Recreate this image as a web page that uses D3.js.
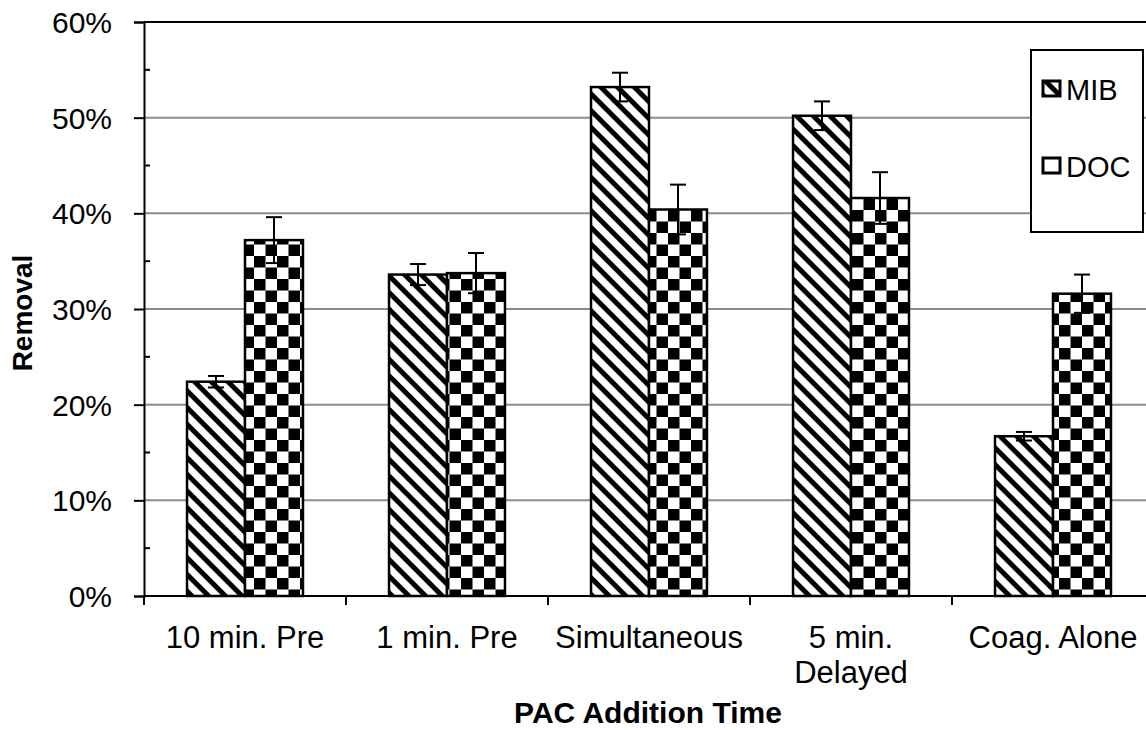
<!DOCTYPE html>
<html><head><meta charset="utf-8">
<script src="https://cdn.jsdelivr.net/npm/d3@7"></script>
<style>body{margin:0;background:#fff}svg{display:block}text{font-family:"Liberation Sans",Arial,sans-serif}</style>
</head><body><svg id="c" width="1146" height="730"></svg>
<script>
const categories = [["10 min. Pre"],["1 min. Pre"],["Simultaneous"],["5 min.","Delayed"],["Coag. Alone"]];
const series = ["MIB","DOC"];
const mibValues = [0.224, 0.336, 0.532, 0.502, 0.167];
const mibErrors = [0.006, 0.011, 0.015, 0.015, 0.0045];
const docValues = [0.372, 0.3375, 0.404, 0.416, 0.316];
const docErrors = [0.024, 0.021, 0.026, 0.027, 0.020];
const yTicks = [0, 0.1, 0.2, 0.3, 0.4, 0.5, 0.6];
const yMinorTicks = [0.05, 0.15, 0.25, 0.35, 0.45, 0.55];

(function(){
const svg = d3.select("#c");
const pL = 144, pR = 1154, pT = 22, pB = 596;
const catKeys = categories.map(c => c.join(" "));
const x = d3.scaleBand().domain(catKeys).range([pL, pR]).padding(0);
const bw = x.bandwidth();
const xs = d3.scaleBand().domain(series).range([0.213*bw, 0.787*bw]).padding(0);
const y = d3.scaleLinear().domain([0, 0.6]).range([pB, pT]);

const defs = svg.append("defs");
const P = 11.8;
const p1 = defs.append("pattern").attr("id","diag").attr("patternUnits","userSpaceOnUse")
  .attr("width",P).attr("height",P).attr("patternTransform","rotate(45)");
p1.append("rect").attr("width",P).attr("height",P).attr("fill","#fff");
p1.append("rect").attr("width",P).attr("height",5).attr("fill","#000");
const p2 = defs.append("pattern").attr("id","check").attr("patternUnits","userSpaceOnUse")
  .attr("width",23).attr("height",23).attr("x",1).attr("y",3);
p2.append("rect").attr("width",23).attr("height",23).attr("fill","#fff");
p2.append("rect").attr("width",11.5).attr("height",11.5).attr("fill","#000");
p2.append("rect").attr("x",11.5).attr("y",11.5).attr("width",11.5).attr("height",11.5).attr("fill","#000");

svg.append("g").selectAll("line").data(yTicks.filter(t => t>0 && t<0.6)).join("line")
  .attr("x1",pL).attr("x2",1146).attr("y1",d=>y(d)).attr("y2",d=>y(d))
  .attr("stroke","#8c8c8c").attr("stroke-width",2);
svg.append("line").attr("x1",pL).attr("x2",1146).attr("y1",y(0.6)).attr("y2",y(0.6))
  .attr("stroke","#000").attr("stroke-width",2);

const data = [];
categories.forEach((c,i)=>{
  data.push({cat:catKeys[i], s:"MIB", v:mibValues[i], e:mibErrors[i]});
  data.push({cat:catKeys[i], s:"DOC", v:docValues[i], e:docErrors[i]});
});
svg.append("g").selectAll("rect").data(data).join("rect")
  .attr("x", d=>x(d.cat)+xs(d.s)).attr("width", xs.bandwidth())
  .attr("y", d=>y(d.v)).attr("height", d=>y(0)-y(d.v))
  .attr("fill", d=>d.s==="MIB"?"url(#diag)":"url(#check)")
  .attr("stroke","#000").attr("stroke-width",2.5);

const eg = svg.append("g").attr("stroke","#000").attr("stroke-width",2);
data.forEach(d=>{
  const cx = x(d.cat)+xs(d.s)+xs.bandwidth()/2;
  eg.append("line").attr("x1",cx).attr("x2",cx).attr("y1",y(d.v+d.e)).attr("y2",y(d.v-d.e));
  eg.append("line").attr("x1",cx-8).attr("x2",cx+8).attr("y1",y(d.v+d.e)).attr("y2",y(d.v+d.e));
  eg.append("line").attr("x1",cx-8).attr("x2",cx+8).attr("y1",y(d.v-d.e)).attr("y2",y(d.v-d.e));
});

const yAxis = d3.axisLeft(y).tickValues(yTicks).tickFormat(d3.format(".0%")).tickSize(10).tickPadding(22);
const ga = svg.append("g").attr("transform",`translate(${pL},0)`).call(yAxis);
ga.attr("font-size",30).attr("font-family","Liberation Sans, Arial, sans-serif");
ga.select(".domain").attr("stroke-width",2);
ga.selectAll(".tick line").attr("stroke-width",2);
ga.selectAll("text").attr("fill","#000").attr("dy","0.35em");
svg.append("g").selectAll("line").data(yMinorTicks).join("line")
  .attr("x1",pL).attr("x2",pL+6).attr("y1",d=>y(d)).attr("y2",d=>y(d))
  .attr("stroke","#000").attr("stroke-width",2);

svg.append("line").attr("x1",pL).attr("x2",1146).attr("y1",pB).attr("y2",pB)
  .attr("stroke","#000").attr("stroke-width",2);
const bounds = catKeys.map(k=>x(k));
svg.append("g").selectAll("line").data(bounds).join("line")
  .attr("x1",d=>d).attr("x2",d=>d).attr("y1",pB).attr("y2",pB+9)
  .attr("stroke","#000").attr("stroke-width",2);
const lab = svg.append("g").selectAll("text").data(categories).join("text")
  .attr("x",(d,i)=>x(catKeys[i])+bw/2).attr("y",648)
  .attr("text-anchor","middle").attr("font-size",31).attr("fill","#000");
lab.each(function(d){
  const t = d3.select(this);
  d.forEach((line,j)=>t.append("tspan").attr("x",t.attr("x")).attr("dy",j?35:0).text(line));
});

svg.append("text").attr("x",648).attr("y",723).attr("text-anchor","middle")
  .attr("font-size",30).attr("font-weight","bold").text("PAC Addition Time");
svg.append("text").attr("transform","translate(32,313) rotate(-90)").attr("text-anchor","middle")
  .attr("font-size",28).attr("font-weight","bold").text("Removal");

const lg = svg.append("g");
lg.append("rect").attr("x",1031).attr("y",50).attr("width",112).attr("height",182)
  .attr("fill","#fff").attr("stroke","#000").attr("stroke-width",2);
const legBase = [100, 177];
series.forEach((s,i)=>{
  lg.append("rect").attr("x",1043).attr("y",legBase[i]-19).attr("width",17).attr("height",15)
    .attr("fill", i===0?"url(#diag)":"#fff").attr("stroke","#000").attr("stroke-width",3);
  lg.append("text").attr("x",1066).attr("y",legBase[i]).attr("font-size",29).text(s);
});
})();
</script></body></html>
